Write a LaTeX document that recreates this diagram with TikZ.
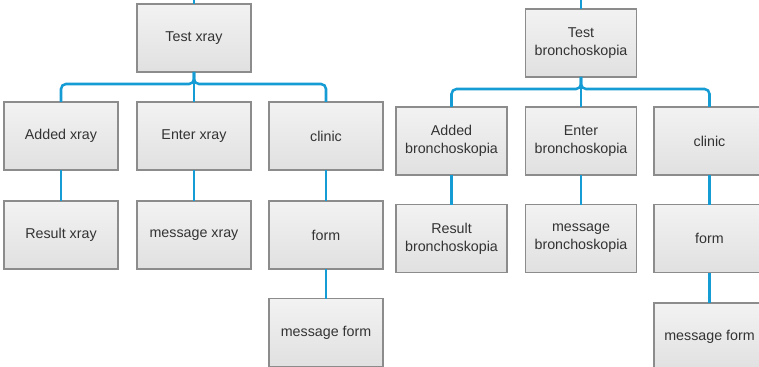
\documentclass[tikz,border=0pt]{standalone}
\usepackage{fontspec}
\setmainfont{Liberation Sans}
\usepackage{xcolor}
\usepackage{tikz}
\usetikzlibrary{positioning}

\definecolor{linkblue}{RGB}{22,156,212}
\definecolor{boxedge}{RGB}{140,140,140}
\definecolor{boxtext}{RGB}{51,51,51}

\begin{document}
\begin{tikzpicture}[x=0.75pt, y=0.75pt,
  card/.style={draw=boxedge, line width=0.9pt, top color=black!5, bottom color=black!12,
               align=center, text=boxtext, font=\fontsize{10.7}{13.5}\selectfont,
               minimum width=85.5pt, minimum height=51pt, inner sep=0pt, outer sep=0pt},
  cardr/.style={card, minimum width=83.25pt},
  link/.style={draw=linkblue, line width=1.9pt, rounded corners=3.75pt}
]
\useasboundingbox (0,0) rectangle (759,-367);
\clip (0,0) rectangle (759,-367);
% xray tree
\coordinate (topx) at (194,0);
\node[card] (txray) at (194,-38) {Test xray};
\node[card] (addx) at (61,-136) {Added xray};
\node[card] (entx) at (194,-136) {Enter xray};
\node[card] (clinx) at (326,-136) {clinic};
\node[card] (resx) at (61,-235) {Result xray};
\node[card] (msgx) at (194,-235) {message xray};
\node[card] (formx) at (326,-235) {form};
\node[card] (msgfx) at (326,-332.5) {message form};
% bronchoskopia tree
\coordinate (topb) at (581,0);
\node[cardr] (tbron) at (581,-43) {Test\\bronchoskopia};
\node[cardr] (addb) at (451.5,-141) {Added\\bronchoskopia};
\node[cardr] (entb) at (581,-141) {Enter\\bronchoskopia};
\node[cardr] (clinb) at (709.5,-141) {clinic};
\node[cardr] (resb) at (451.5,-238.5) {Result\\bronchoskopia};
\node[cardr] (msgb) at (581,-238.5) {message\\bronchoskopia};
\node[cardr] (formb) at (709.5,-238.5) {form};
\node[cardr] (msgfb) at (709.5,-337) {message form};
% links
\draw[link] (topx) -- (txray.north);
\draw[link] (txray.south) -- ++(0,-12) -| (addx.north);
\draw[link] (txray.south) -- (entx.north);
\draw[link] (txray.south) -- ++(0,-12) -| (clinx.north);
\draw[link] (addx) -- (resx);
\draw[link] (entx) -- (msgx);
\draw[link] (clinx) -- (formx);
\draw[link] (formx) -- (msgfx);
\draw[link] (topb) -- (tbron.north);
\draw[link] (tbron.south) -- ++(0,-12) -| (addb.north);
\draw[link] (tbron.south) -- (entb.north);
\draw[link] (tbron.south) -- ++(0,-12) -| (clinb.north);
\draw[link] (addb) -- (resb);
\draw[link] (entb) -- (msgb);
\draw[link] (clinb) -- (formb);
\draw[link] (formb) -- (msgfb);
\end{tikzpicture}
\end{document}
